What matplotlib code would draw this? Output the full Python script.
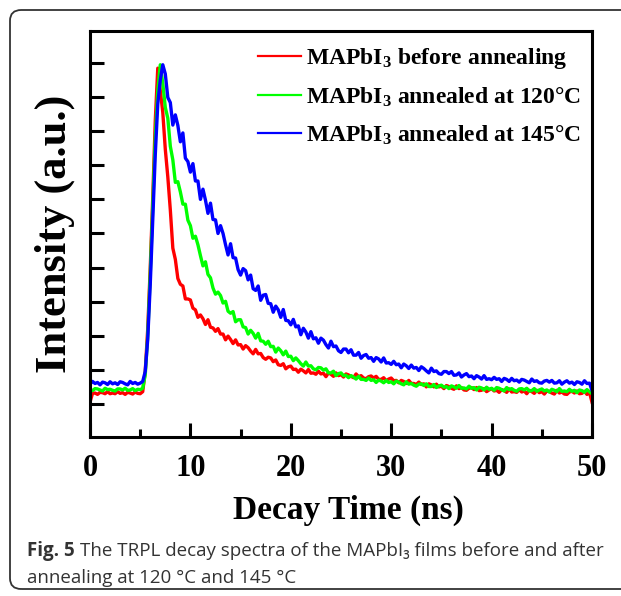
import numpy as np
import matplotlib
matplotlib.use("Agg")
from matplotlib import pyplot as plt
from matplotlib.patches import FancyBboxPatch

plt.rcParams["font.family"] = ["Liberation Serif", "DejaVu Serif"]
plt.rcParams["font.weight"] = "bold"
plt.rcParams["mathtext.fontset"] = "custom"
plt.rcParams["mathtext.rm"] = "Liberation Serif:bold"
plt.rcParams["mathtext.it"] = "Liberation Serif:bold"
plt.rcParams["mathtext.bf"] = "Liberation Serif:bold"

# sampling grid of the TRPL traces (ns)
time_ns = np.arange(201) * 0.25

# normalised PL intensity, every 0.25 ns
red_before = [
    0.05, 0.31, 0.32, 0.28, 0.34, 0.33, 0.30, 0.36, 0.30, 0.32,
    0.30, 0.36, 0.31, 0.33, 0.28, 0.34, 0.32, 0.29, 0.35, 0.31,
    0.30, 0.36, 0.95, 2.20, 4.00, 6.05, 8.30, 9.85, 9.20, 8.55,
    7.47, 6.66, 5.69, 4.57, 4.24, 3.68, 3.51, 3.46, 3.08, 3.08,
    3.05, 2.81, 2.76, 2.54, 2.61, 2.50, 2.33, 2.47, 2.25, 2.23,
    2.13, 2.21, 2.05, 2.05, 1.88, 1.99, 1.89, 1.77, 1.88, 1.73,
    1.74, 1.61, 1.71, 1.65, 1.55, 1.47, 1.60, 1.47, 1.48, 1.36,
    1.31, 1.37, 1.35, 1.24, 1.29, 1.15, 1.13, 1.18, 1.03, 1.09,
    1.11, 1.01, 1.02, 0.93, 1.02, 0.97, 0.91, 1.01, 0.90, 0.91,
    0.87, 0.96, 0.88, 0.90, 0.80, 0.91, 0.87, 0.81, 0.91, 0.83,
    0.86, 0.79, 0.88, 0.85, 0.81, 0.77, 0.88, 0.80, 0.83, 0.76,
    0.74, 0.80, 0.82, 0.76, 0.81, 0.72, 0.72, 0.77, 0.68, 0.73,
    0.76, 0.68, 0.69, 0.62, 0.69, 0.66, 0.60, 0.69, 0.60, 0.60,
    0.57, 0.64, 0.57, 0.59, 0.50, 0.59, 0.56, 0.50, 0.58, 0.50,
    0.52, 0.45, 0.54, 0.51, 0.46, 0.43, 0.53, 0.45, 0.48, 0.41,
    0.40, 0.46, 0.48, 0.42, 0.48, 0.39, 0.40, 0.45, 0.36, 0.41,
    0.45, 0.38, 0.40, 0.34, 0.42, 0.39, 0.34, 0.44, 0.35, 0.36,
    0.34, 0.42, 0.35, 0.38, 0.30, 0.40, 0.36, 0.31, 0.40, 0.33,
    0.36, 0.29, 0.38, 0.36, 0.32, 0.29, 0.40, 0.32, 0.35, 0.29,
    0.28, 0.35, 0.37, 0.32, 0.38, 0.30, 0.31, 0.37, 0.28, 0.34,
    0.05,
]
green_120 = [
    0.43, 0.39, 0.45, 0.44, 0.41, 0.38, 0.46, 0.42, 0.43, 0.40,
    0.38, 0.44, 0.44, 0.41, 0.46, 0.40, 0.41, 0.45, 0.39, 0.43,
    0.42, 0.46, 0.85, 2.00, 3.80, 5.80, 7.80, 9.20, 9.95, 9.40,
    8.70, 8.38, 7.56, 7.16, 6.50, 6.52, 6.22, 5.86, 5.86, 5.39,
    5.23, 4.86, 4.92, 4.67, 4.35, 4.05, 4.17, 3.80, 3.70, 3.40,
    3.22, 3.28, 3.18, 2.96, 3.01, 2.72, 2.66, 2.71, 2.41, 2.47,
    2.47, 2.26, 2.24, 2.05, 2.16, 2.07, 1.93, 2.07, 1.85, 1.84,
    1.75, 1.84, 1.68, 1.69, 1.52, 1.64, 1.56, 1.44, 1.55, 1.39,
    1.40, 1.27, 1.35, 1.27, 1.18, 1.11, 1.23, 1.11, 1.12, 1.03,
    1.00, 1.07, 1.06, 0.99, 1.03, 0.91, 0.91, 0.96, 0.83, 0.89,
    0.91, 0.83, 0.84, 0.77, 0.83, 0.79, 0.73, 0.81, 0.72, 0.72,
    0.69, 0.76, 0.69, 0.71, 0.63, 0.70, 0.67, 0.62, 0.69, 0.63,
    0.65, 0.59, 0.67, 0.64, 0.59, 0.56, 0.65, 0.58, 0.60, 0.55,
    0.52, 0.58, 0.59, 0.54, 0.59, 0.51, 0.51, 0.57, 0.48, 0.53,
    0.55, 0.49, 0.51, 0.45, 0.53, 0.50, 0.46, 0.54, 0.46, 0.47,
    0.44, 0.52, 0.46, 0.48, 0.41, 0.49, 0.47, 0.41, 0.49, 0.43,
    0.46, 0.40, 0.48, 0.46, 0.42, 0.38, 0.48, 0.42, 0.45, 0.40,
    0.37, 0.44, 0.45, 0.41, 0.46, 0.38, 0.39, 0.45, 0.37, 0.41,
    0.44, 0.38, 0.41, 0.35, 0.43, 0.40, 0.36, 0.45, 0.37, 0.38,
    0.36, 0.43, 0.37, 0.40, 0.33, 0.41, 0.39, 0.34, 0.42, 0.36,
    0.30,
]
blue_145 = [
    0.58, 0.66, 0.60, 0.63, 0.56, 0.64, 0.62, 0.57, 0.65, 0.59,
    0.62, 0.57, 0.65, 0.63, 0.59, 0.56, 0.66, 0.60, 0.63, 0.58,
    0.61, 0.66, 0.95, 1.90, 3.50, 5.40, 7.30, 8.80, 9.50, 9.95,
    9.68, 8.99, 8.84, 8.18, 8.48, 8.17, 7.69, 7.95, 7.21, 7.11,
    6.80, 7.05, 6.54, 6.54, 6.00, 6.30, 5.98, 5.59, 5.89, 5.41,
    5.40, 5.00, 5.23, 5.00, 4.67, 4.37, 4.70, 4.29, 4.28, 3.94,
    3.78, 3.97, 3.91, 3.64, 3.78, 3.38, 3.33, 3.46, 3.04, 3.19,
    3.21, 2.95, 2.94, 2.69, 2.87, 2.76, 2.54, 2.77, 2.45, 2.44,
    2.32, 2.48, 2.26, 2.29, 2.03, 2.22, 2.11, 1.93, 2.12, 1.91,
    1.94, 1.78, 1.93, 1.87, 1.74, 1.64, 1.84, 1.68, 1.70, 1.56,
    1.51, 1.61, 1.61, 1.50, 1.59, 1.43, 1.43, 1.51, 1.34, 1.42,
    1.45, 1.34, 1.36, 1.25, 1.36, 1.32, 1.23, 1.35, 1.20, 1.21,
    1.16, 1.25, 1.15, 1.17, 1.06, 1.17, 1.12, 1.04, 1.14, 1.05,
    1.07, 0.98, 1.09, 1.04, 0.97, 0.91, 1.05, 0.95, 0.97, 0.89,
    0.87, 0.95, 0.95, 0.89, 0.95, 0.84, 0.85, 0.91, 0.79, 0.85,
    0.89, 0.80, 0.82, 0.74, 0.83, 0.79, 0.73, 0.83, 0.72, 0.74,
    0.71, 0.78, 0.72, 0.74, 0.66, 0.75, 0.72, 0.66, 0.75, 0.68,
    0.70, 0.64, 0.72, 0.70, 0.66, 0.62, 0.73, 0.66, 0.68, 0.62,
    0.61, 0.67, 0.69, 0.64, 0.69, 0.61, 0.62, 0.68, 0.58, 0.64,
    0.68, 0.61, 0.64, 0.57, 0.65, 0.63, 0.58, 0.68, 0.60, 0.61,
    0.40,
]

labels = [
    r"MAPbI$_3$ before annealing",
    r"MAPbI$_3$ annealed at 120°C",
    r"MAPbI$_3$ annealed at 145°C",
]
colors = ["#ff0000", "#00ff00", "#0000ff"]
x_ticks = [0, 10, 20, 30, 40, 50]

fig = plt.figure(figsize=(6.21, 5.96), dpi=100)

# rounded frame around figure + caption
frame = FancyBboxPatch((10 / 621, 7 / 596), 1.2, 579 / 596,
                       boxstyle="round,pad=0,rounding_size=0.018",
                       transform=fig.transFigure, fill=False,
                       edgecolor="#333333", linewidth=1.3)
fig.patches.append(frame)

ax = fig.add_axes([90 / 621, 159 / 596, 502 / 621, 406 / 596])

for series, lab, col in zip([red_before, green_120, blue_145], labels, colors):
    ax.plot(time_ns, series, color=col, linewidth=2.4, label=lab)

ax.set_xlim(0, 50)
ax.set_ylim(-0.97, 10.94)
ax.set_xticks(x_ticks)
ax.set_xticks([5, 15, 25, 35, 45], minor=True)
ax.set_yticks(range(11))
ax.set_yticklabels([])
ax.tick_params(axis="both", which="major", direction="in", length=10,
               width=2.2, labelsize=22, pad=12)
ax.tick_params(axis="x", which="minor", direction="in", length=6, width=2.2)
for sp in ax.spines.values():
    sp.set_linewidth(2.2)

ax.set_xlabel("Decay Time (ns)", fontsize=24, fontweight="bold", labelpad=8)
ax.xaxis.set_label_coords(0.514, -0.142)
ax.set_ylabel("Intensity (a.u.)", fontsize=32, fontweight="bold", labelpad=-1)

leg = ax.legend(loc="upper left", bbox_to_anchor=(0.334, 0.963), frameon=False,
                fontsize=17, handlelength=1.85, handletextpad=0.2,
                labelspacing=0.62, borderpad=0, borderaxespad=0)
for line in leg.get_lines():
    line.set_linewidth(1.6)

# caption
cap_font = ["Open Sans", "DejaVu Sans"]
t1 = fig.text(27 / 621, 1 - 551 / 596, "Fig. 5", family=cap_font,
              fontweight="bold", fontsize=13.5, color="#333333", va="center")
fig.canvas.draw()
bb = t1.get_window_extent()
fig.text(bb.x1 / 621 + 5 / 621, 1 - 551 / 596,
         "The TRPL decay spectra of the MAPbI₃ films before and after",
         family=cap_font, fontweight="normal", fontsize=13.5,
         color="#333333", va="center")
fig.text(27 / 621, 1 - 578 / 596, "annealing at 120 °C and 145 °C",
         family=cap_font, fontweight="normal", fontsize=13.5,
         color="#333333", va="center")

fig.savefig("out.png", dpi=100)
